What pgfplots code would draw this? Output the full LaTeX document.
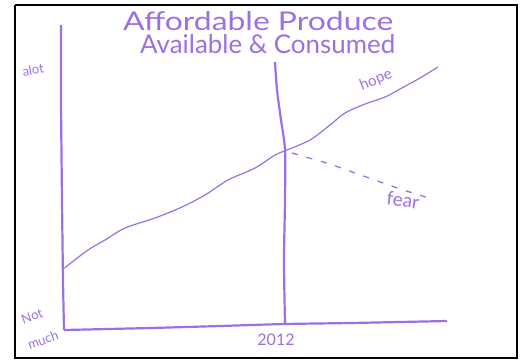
\documentclass[border=0pt]{standalone}
\usepackage{pgfplots}
\pgfplotsset{compat=1.18}
\usepackage{fontspec}
\setmainfont{Lato}
\definecolor{pen}{RGB}{155,112,228}
\begin{document}
\begin{tikzpicture}
\begin{axis}[
  scale only axis, width=532pt, height=360pt,
  xmin=0, xmax=532, ymin=0, ymax=360, y dir=reverse,
  hide axis, clip=false,
]
% full canvas (keeps the picture 532x360)
\addplot[draw=none] coordinates {(0,0) (532,360)};
% frame
\addplot[black, line width=2.2pt] coordinates {(15,5) (517,5) (517,358) (15,358) (15,5)};
% y axis
\addplot[pen, line width=2.2pt, smooth] coordinates {(61,25) (61,100) (62,200) (63,280) (64,330)};
% x axis
\addplot[pen, line width=2.2pt, smooth] coordinates {(64,330) (150,328) (220,326) (285,324) (350,323) (447,321)};
% 2012 line
\addplot[pen, line width=2.2pt, smooth] coordinates {(275,62) (277,90) (281,120) (285,150) (285,200) (284,260) (285,324)};
% hope
\addplot[pen, line width=1.2pt, smooth] coordinates {(65,268) (67,266) (88,250) (105,240) (125,228) (155,218) (182,207) (205,195) (228,180) (255,168) (275,155) (287,150) (310,140) (330,125) (345,113) (365,104) (385,97) (400,89) (420,78) (438,67)};
% fear
\addplot[pen, line width=1.3pt, dash pattern=on 6pt off 9pt] coordinates {(292,153) (330,164) (372,179) (400,189) (432,199)};
% text
\node[pen, anchor=base west, inner sep=0pt] at (axis cs:123,30) {\resizebox{270pt}{19pt}{Affordable Produce}};
\node[pen, anchor=base west, inner sep=0pt] at (axis cs:140,53) {\resizebox{255pt}{19pt}{Available \& Consumed}};
\node[pen, font=\fontsize{13}{15}\selectfont, rotate=10] at (axis cs:33,70) {alot};
\node[pen, font=\fontsize{15}{17}\selectfont, rotate=22, inner sep=0pt] at (axis cs:376,80) {hope};
\node[pen, font=\fontsize{19}{21}\selectfont, rotate=-8] at (axis cs:403,200) {fear};
\node[pen, font=\fontsize{13}{15}\selectfont, rotate=20, inner sep=0pt] at (axis cs:32,316) {Not};
\node[pen, font=\fontsize{13}{15}\selectfont, rotate=20, inner sep=0pt] at (axis cs:43,340) {much};
\node[pen, font=\fontsize{16}{18}\selectfont] at (axis cs:276,340) {2012};
\end{axis}
\end{tikzpicture}
\end{document}
